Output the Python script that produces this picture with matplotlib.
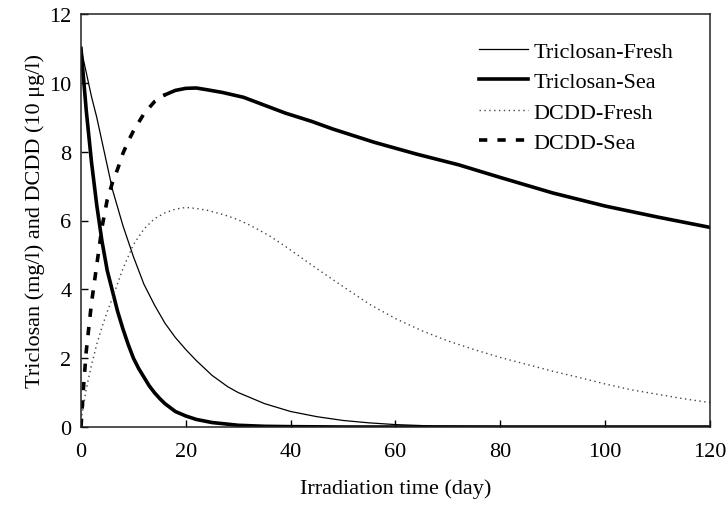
import matplotlib
matplotlib.use("Agg")
import matplotlib.pyplot as plt
from matplotlib.lines import Line2D

plt.rcParams['font.family'] = ['Liberation Serif', 'DejaVu Serif']

# ---- data ----
tcs_fresh_day = [0, 1, 2, 3, 4, 5, 6, 8, 10, 12, 14, 16, 18, 20, 22, 25, 28, 30, 35, 40, 45, 50, 55, 60, 67, 80, 100, 120]
tcs_fresh_val = [11.0, 10.3, 9.6, 9.0, 8.3, 7.6, 6.9, 5.85, 4.95, 4.15, 3.55, 3.02, 2.6, 2.25, 1.93, 1.5, 1.17, 1.0, 0.68, 0.45, 0.3, 0.19, 0.12, 0.07, 0.03, 0.01, 0.0, 0.0]

tcs_sea_day = [0, 1, 2, 3, 4, 5, 6, 7, 8, 9, 10, 11, 12, 13, 14, 15, 16, 18, 20, 22, 25, 30, 35, 40, 50, 60, 80, 100, 120]
tcs_sea_val = [11.0, 9.2, 7.7, 6.45, 5.4, 4.55, 3.95, 3.35, 2.85, 2.4, 2.0, 1.7, 1.45, 1.2, 1.0, 0.83, 0.68, 0.45, 0.32, 0.22, 0.13, 0.05, 0.02, 0.01, 0.0, 0.0, 0.0, 0.0, 0.0]

dcdd_fresh_day = [0, 1, 2, 3, 4, 5, 6, 8, 10, 12, 14, 16, 18, 20, 22, 24, 26, 28, 30, 32, 34, 36, 38, 40, 45, 50, 55, 60, 65, 70, 75, 80, 85, 90, 95, 100, 105, 110, 115, 120]
dcdd_fresh_val = [0.2, 1.1, 1.8, 2.4, 2.9, 3.35, 3.75, 4.6, 5.3, 5.75, 6.05, 6.22, 6.33, 6.38, 6.35, 6.3, 6.22, 6.13, 6.02, 5.88, 5.72, 5.55, 5.35, 5.14, 4.6, 4.08, 3.57, 3.15, 2.8, 2.5, 2.25, 2.02, 1.82, 1.62, 1.44, 1.25, 1.08, 0.95, 0.82, 0.71]

dcdd_sea_day = [0, 0.5, 1, 2, 3, 4, 5, 6, 7, 8, 9, 10, 12, 14, 16, 18, 20, 22, 24, 27, 31, 35, 39, 44, 48, 56, 64, 72, 80, 90, 100, 110, 120]
dcdd_sea_val = [0.0, 1.2, 2.2, 3.6, 4.7, 5.8, 6.6, 7.1, 7.5, 7.95, 8.3, 8.6, 9.1, 9.45, 9.65, 9.78, 9.84, 9.85, 9.8, 9.72, 9.58, 9.35, 9.12, 8.88, 8.66, 8.27, 7.93, 7.62, 7.25, 6.8, 6.42, 6.1, 5.8]

series_labels = ["Triclosan-Fresh", "Triclosan-Sea", "DCDD-Fresh", "DCDD-Sea"]
x_ticks = [0, 20, 40, 60, 80, 100, 120]
y_ticks = [0, 2, 4, 6, 8, 10, 12]

# ---- figure ----
W, H = 727, 506
fig = plt.figure(figsize=(W / 100, H / 100), dpi=100)
ax = fig.add_axes([81 / W, (H - 428) / H, 629 / W, 413 / H])

thin = 0.9
thick = 2.6
dash_pat = (2.3, 2.8)
dot_style = (0, (1, 2.5))

ax.plot(tcs_fresh_day, tcs_fresh_val, color='black', lw=thin)
ax.plot(tcs_sea_day, tcs_sea_val, color='black', lw=thick)
ax.plot(dcdd_fresh_day, dcdd_fresh_val, color='#444444', lw=1.0, linestyle=dot_style)

# DCDD-Sea: the dash pattern is only visible on the steep rising part;
# afterwards the dense segments render as a continuous thick line.
split = dcdd_sea_day.index(16)
ax.plot(dcdd_sea_day[:split + 1], dcdd_sea_val[:split + 1], color='black', lw=thick,
        linestyle=(0, dash_pat), dash_capstyle='butt')
ax.plot(dcdd_sea_day[split:], dcdd_sea_val[split:], color='black', lw=thick)

ax.set_xlim(0, 120)
ax.set_ylim(0, 12)
ax.set_xticks(x_ticks)
ax.set_yticks(y_ticks)
ax.tick_params(direction='in', length=5, width=1, labelsize=16, top=False, right=False)
ax.tick_params(axis='x', pad=11)
ax.tick_params(axis='y', pad=7)
for s in ax.spines.values():
    s.set_linewidth(1.1)
    s.set_color('#222222')

ax.set_xlabel("Irradiation time (day)", fontsize=16, labelpad=12)
ax.set_ylabel("Triclosan (mg/l) and DCDD (10 μg/l)", fontsize=16, labelpad=3)

handles = [
    Line2D([], [], color='black', lw=thin),
    Line2D([], [], color='black', lw=thick),
    Line2D([], [], color='#444444', lw=1.0, linestyle=dot_style),
    Line2D([], [], color='black', lw=thick, linestyle=(0, dash_pat), dash_capstyle='butt'),
]
fig.legend(handles, series_labels, loc='upper left', bbox_to_anchor=(479 / W, 1 - 42 / H),
           frameon=False, fontsize=16, handlelength=2.2, handletextpad=0.25,
           labelspacing=0.45, borderpad=0, borderaxespad=0)

fig.savefig("out.png", dpi=100)
